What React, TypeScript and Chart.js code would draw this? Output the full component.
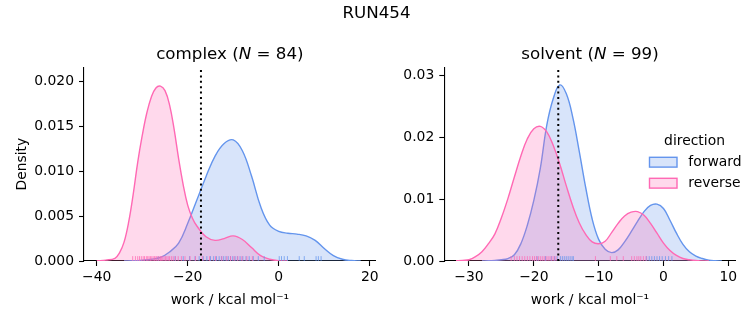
import React, { useEffect, useRef } from 'react';
import { Chart, registerables } from 'chart.js';

Chart.register(...registerables);
Chart.defaults.font.family = '"DejaVu Sans", sans-serif';

const BLUE = '#6495ED';
const PINK = '#FF69B4';
const BLUE_FILL = 'rgba(100,149,237,0.25)';
const PINK_FILL = 'rgba(255,105,180,0.25)';

// ---------- complex panel ----------
const complexForwardX = [-34, -32, -30, -28, -26, -24, -22, -20, -18, -16, -14, -12, -10, -8, -6, -4, -2, 0, 2, 4, 6, 8, 10, 12, 14, 16, 18];
const complexForwardY = [0, 0.00003, 0.0001, 0.0002, 0.0004, 0.001, 0.002, 0.0042, 0.0068, 0.0094, 0.0117, 0.0131, 0.0135, 0.0123, 0.0095, 0.0061, 0.004, 0.0033, 0.0031, 0.003, 0.0028, 0.0023, 0.0014, 0.0006, 0.0002, 0.00005, 0];
const complexReverseX = [-40, -38, -36, -35, -34, -33, -32, -31, -30, -29, -28, -27, -26, -25, -24, -23, -22, -21, -20, -19, -18, -16, -14, -12, -10, -8, -6, -4, -2, 0, 2];
const complexReverseY = [0.00002, 0.0001, 0.0003, 0.0009, 0.0021, 0.0043, 0.0074, 0.011, 0.014, 0.0165, 0.0183, 0.0193, 0.0195, 0.019, 0.0174, 0.0147, 0.0114, 0.0085, 0.0062, 0.0048, 0.0039, 0.0027, 0.0023, 0.0025, 0.0028, 0.0024, 0.0015, 0.0006, 0.0002, 0.00003, 0];
const complexForwardRug = [-26.5, -22.8, -21.0, -19.6, -18.4, -17.5, -16.6, -15.8, -15.0, -14.3, -13.7, -13.1, -12.6, -12.1, -11.6, -11.1, -10.6, -10.1, -9.6, -9.1, -8.5, -7.9, -7.2, -6.5, -5.6, -4.5, -3.2, 0.1, 0.6, 1.2, 1.9, 4.5, 5.6, 8.2, 8.7, 9.3];
const complexReverseRug = [-32.1, -31.5, -31.0, -30.6, -30.2, -29.8, -29.5, -29.1, -28.8, -28.5, -28.2, -27.9, -27.6, -27.3, -27.0, -26.8, -26.5, -26.3, -26.0, -25.8, -25.5, -25.2, -24.9, -24.6, -24.3, -24.0, -23.6, -23.2, -22.7, -22.1, -21.4, -20.6, -19.5, -18.3, -16.8, -15.2, -13.9, -12.5, -11.4, -10.6, -9.8, -9.0, -8.1, -7.0, -5.8];
const complexMarker = -17.1;
const complexXTicks = [-40, -20, 0, 20];
const complexYTicks = [0, 0.005, 0.01, 0.015, 0.02];

// ---------- solvent panel ----------
const solventForwardX = [-28, -27, -26, -25, -24, -23, -22, -21, -20, -19, -18, -17, -16, -15, -14, -13, -12, -11, -10, -9, -8, -7, -6, -5, -4, -3, -2, -1, 0, 1, 2, 3, 4, 5, 6, 7, 8, 9];
const solventForwardY = [0, 0.00003, 0.0001, 0.0002, 0.0004, 0.001, 0.0028, 0.0058, 0.0098, 0.015, 0.022, 0.0263, 0.0285, 0.0271, 0.0233, 0.0178, 0.0119, 0.0068, 0.0035, 0.0019, 0.00135, 0.0018, 0.0031, 0.0047, 0.0064, 0.008, 0.009, 0.0092, 0.0085, 0.0066, 0.0045, 0.0027, 0.0015, 0.0008, 0.0004, 0.00015, 0.00005, 0];
const solventReverseX = [-32, -31, -30, -29, -28, -27, -26, -25, -24, -23, -22, -21, -20, -19, -18, -17, -16, -15, -14, -13, -12, -11, -10, -9, -8, -7, -6, -5, -4, -3, -2, -1, 0, 1, 2, 3, 4, 5, 6, 7];
const solventReverseY = [0.00005, 0.0001, 0.0002, 0.0007, 0.0015, 0.0028, 0.0044, 0.007, 0.0101, 0.0136, 0.017, 0.0198, 0.0214, 0.0218, 0.0209, 0.0187, 0.0157, 0.0122, 0.0089, 0.0062, 0.0043, 0.0031, 0.0028, 0.0032, 0.0046, 0.0061, 0.0073, 0.0079, 0.008, 0.0074, 0.0061, 0.0045, 0.0029, 0.0017, 0.0009, 0.0004, 0.0002, 0.00007, 0.00002, 0];
const solventForwardRug = [-19.5, -18.2, -17.3, -16.8, -16.4, -15.9, -15.6, -15.3, -15.0, -14.7, -14.4, -14.1, -13.9, -2.6, -2.2, -1.8, -1.4, -1.0, -0.6, -0.2, 0.3, 0.8, 1.3];
const solventReverseRug = [-23.5, -23.0, -22.6, -22.2, -21.8, -21.4, -21.0, -20.6, -20.2, -19.9, -19.6, -19.3, -19.0, -18.7, -18.4, -18.1, -17.8, -17.5, -17.2, -16.9, -16.6, -10.5, -8.2, -7.2, -6.2, -4.9, -4.5, -4.1, -3.8, -3.5, -3.1, -2.7];
const solventMarker = -16.23;
const solventXTicks = [-30, -20, -10, 0, 10];
const solventYTicks = [0, 0.01, 0.02, 0.03];

const legendLabels = ['forward', 'reverse'];
const legendTitle = 'direction';
const suptitle = 'RUN454';

const TICK_FONT = 13.9;
const TITLE_FONT = 16.7;

function pts(xs: number[], ys: number[]) {
  return xs.map((x, i) => ({ x, y: ys[i] }));
}

function fmtX(v: number) {
  return v < 0 ? '\u2212' + Math.abs(v) : String(v);
}

function drawMathTitle(ctx: CanvasRenderingContext2D, cx: number, baseline: number, pre: string, ital: string, post: string) {
  const normal = `${TITLE_FONT}px "DejaVu Sans"`;
  const italic = `italic ${TITLE_FONT}px "DejaVu Sans"`;
  ctx.save();
  ctx.fillStyle = '#000';
  ctx.textBaseline = 'alphabetic';
  ctx.textAlign = 'left';
  ctx.font = normal;
  const w1 = ctx.measureText(pre).width;
  const w3 = ctx.measureText(post).width;
  ctx.font = italic;
  const w2 = ctx.measureText(ital).width;
  let x = cx - (w1 + w2 + w3) / 2;
  ctx.font = normal;
  ctx.fillText(pre, x, baseline);
  x += w1;
  ctx.font = italic;
  ctx.fillText(ital, x, baseline);
  x += w2;
  ctx.font = normal;
  ctx.fillText(post, x, baseline);
  ctx.restore();
}

interface Panel {
  name: string;
  n: number;
  fx: number[]; fy: number[];
  rx: number[]; ry: number[];
  fRug: number[]; rRug: number[];
  marker: number;
  xMin: number; xMax: number; yMax: number;
  xTicks: number[]; yTicks: number[]; yDigits: number;
  padLeft: number; padRight: number; yWidth: number;
  showYTitle: boolean;
  suptitle: boolean;
  legend: boolean;
}

function makeConfig(p: Panel): any {
  const rugY = p.yMax * 0.0125;
  const overlay = {
    id: 'overlay-' + p.name,
    afterDraw(chart: any) {
      const ctx: CanvasRenderingContext2D = chart.ctx;
      const a = chart.chartArea;
      drawMathTitle(ctx, (a.left + a.right) / 2, a.top - 8.3, p.name + ' (', 'N', ' = ' + p.n + ')');
      if (p.suptitle) {
        ctx.save();
        ctx.fillStyle = '#000';
        ctx.font = `${TITLE_FONT}px "DejaVu Sans"`;
        ctx.textAlign = 'center';
        ctx.textBaseline = 'alphabetic';
        ctx.fillText(suptitle, chart.width / 2, 18.3);
        ctx.restore();
      }
      if (p.legend) {
        ctx.save();
        ctx.fillStyle = '#000';
        ctx.font = `${TICK_FONT}px "DejaVu Sans"`;
        ctx.textAlign = 'center';
        ctx.textBaseline = 'middle';
        ctx.fillText(legendTitle, 694.5, 141);
        const rows = [
          { label: legendLabels[0], fill: BLUE_FILL, stroke: BLUE, y: 157.3 },
          { label: legendLabels[1], fill: PINK_FILL, stroke: PINK, y: 178.3 },
        ];
        rows.forEach((r) => {
          ctx.fillStyle = r.fill;
          ctx.fillRect(649.5, r.y, 27.5, 9.8);
          ctx.strokeStyle = r.stroke;
          ctx.lineWidth = 1.4;
          ctx.strokeRect(649.5, r.y, 27.5, 9.8);
          ctx.fillStyle = '#000';
          ctx.textAlign = 'left';
          ctx.fillText(r.label, 688.3, r.y + 4.9);
        });
        ctx.restore();
      }
    },
  };
  const lineDs = (data: any[], stroke: string, fill: string) => ({
    type: 'line',
    data,
    borderColor: stroke,
    backgroundColor: fill,
    borderWidth: 1.4,
    fill: 'origin',
    pointRadius: 0,
    tension: 0.4,
  });
  const rugDs = (vals: number[], color: string) => ({
    type: 'scatter',
    data: vals.map((x) => ({ x, y: rugY })),
    pointStyle: 'line',
    rotation: 90,
    pointRadius: 2.45,
    pointHoverRadius: 2.45,
    pointBorderWidth: 1,
    borderColor: color,
    backgroundColor: color,
    showLine: false,
  });
  return {
    type: 'line',
    data: {
      datasets: [
        {
          type: 'line',
          data: [{ x: p.marker, y: 0 }, { x: p.marker, y: p.yMax }],
          borderColor: '#000',
          borderWidth: 2,
          borderDash: [2, 3.4],
          pointRadius: 0,
          fill: false,
        },
        rugDs(p.rRug, 'rgba(255,105,180,0.75)'),
        rugDs(p.fRug, 'rgba(100,149,237,0.75)'),
        lineDs(pts(p.rx, p.ry), PINK, PINK_FILL),
        lineDs(pts(p.fx, p.fy), BLUE, BLUE_FILL),
      ],
    },
    options: {
      responsive: false,
      animation: false,
      devicePixelRatio: 1,
      events: [],
      layout: { padding: { left: p.padLeft, right: p.padRight, top: 67.3, bottom: 0 } },
      plugins: { legend: { display: false }, tooltip: { enabled: false }, title: { display: false } },
      scales: {
        x: {
          type: 'linear',
          min: p.xMin,
          max: p.xMax,
          afterBuildTicks(s: any) {
            s.ticks = p.xTicks.map((v) => ({ value: v }));
          },
          afterFit(s: any) {
            s.height = 64;
            s.paddingLeft = 0;
            s.paddingRight = 0;
          },
          ticks: { callback: (v: number) => fmtX(v), color: '#000', font: { size: TICK_FONT }, padding: 3, maxRotation: 0, autoSkip: false },
          grid: { display: true, drawOnChartArea: false, drawTicks: true, tickLength: 5, tickWidth: 1.1, tickColor: '#000' },
          border: { display: true, color: '#000', width: 1.1 },
          title: { display: true, text: 'work / kcal mol\u207B\u00B9', color: '#000', font: { size: TICK_FONT }, padding: { top: 0, bottom: 16.7 } },
        },
        y: {
          type: 'linear',
          min: 0,
          max: p.yMax,
          afterBuildTicks(s: any) {
            s.ticks = p.yTicks.map((v) => ({ value: v }));
          },
          afterFit(s: any) {
            s.width = p.yWidth;
            s.paddingTop = 0;
            s.paddingBottom = 0;
          },
          ticks: { callback: (v: number) => v.toFixed(p.yDigits), color: '#000', font: { size: TICK_FONT }, padding: 5, autoSkip: false },
          grid: { display: true, drawOnChartArea: false, drawTicks: true, tickLength: 5, tickWidth: 1.1, tickColor: '#000' },
          border: { display: true, color: '#000', width: 1.1 },
          title: { display: p.showYTitle, text: 'Density', color: '#000', font: { size: TICK_FONT }, padding: { top: 13.6, bottom: 0 } },
        },
      },
    },
    plugins: [overlay],
  };
}

const complexPanel: Panel = {
  name: 'complex', n: 84,
  fx: complexForwardX, fy: complexForwardY, rx: complexReverseX, ry: complexReverseY,
  fRug: complexForwardRug, rRug: complexReverseRug, marker: complexMarker,
  xMin: -42.8, xMax: 21.3, yMax: 0.0216,
  xTicks: complexXTicks, yTicks: complexYTicks, yDigits: 3,
  padLeft: 0, padRight: 377.3, yWidth: 84,
  showYTitle: true, suptitle: true, legend: false,
};

const solventPanel: Panel = {
  name: 'solvent', n: 99,
  fx: solventForwardX, fy: solventForwardY, rx: solventReverseX, ry: solventReverseY,
  fRug: solventForwardRug, rRug: solventReverseRug, marker: solventMarker,
  xMin: -33.81, xMax: 11.14, yMax: 0.03136,
  xTicks: solventXTicks, yTicks: solventYTicks, yDigits: 2,
  padLeft: 380, padRight: 17.3, yWidth: 64.3,
  showYTitle: false, suptitle: false, legend: true,
};

export default function App() {
  const leftRef = useRef<HTMLCanvasElement>(null);
  const rightRef = useRef<HTMLCanvasElement>(null);
  useEffect(() => {
    const c1 = new Chart(leftRef.current as HTMLCanvasElement, makeConfig(complexPanel));
    const c2 = new Chart(rightRef.current as HTMLCanvasElement, makeConfig(solventPanel));
    return () => {
      c1.destroy();
      c2.destroy();
    };
  }, []);
  const cs: React.CSSProperties = { position: 'absolute', left: 0, top: 0, width: 753, height: 325 };
  return (
    <div style={{ position: 'absolute', left: 0, top: 0, width: 753, height: 325, background: '#fff' }}>
      <canvas ref={leftRef} width={753} height={325} style={cs} />
      <canvas ref={rightRef} width={753} height={325} style={cs} />
    </div>
  );
}
